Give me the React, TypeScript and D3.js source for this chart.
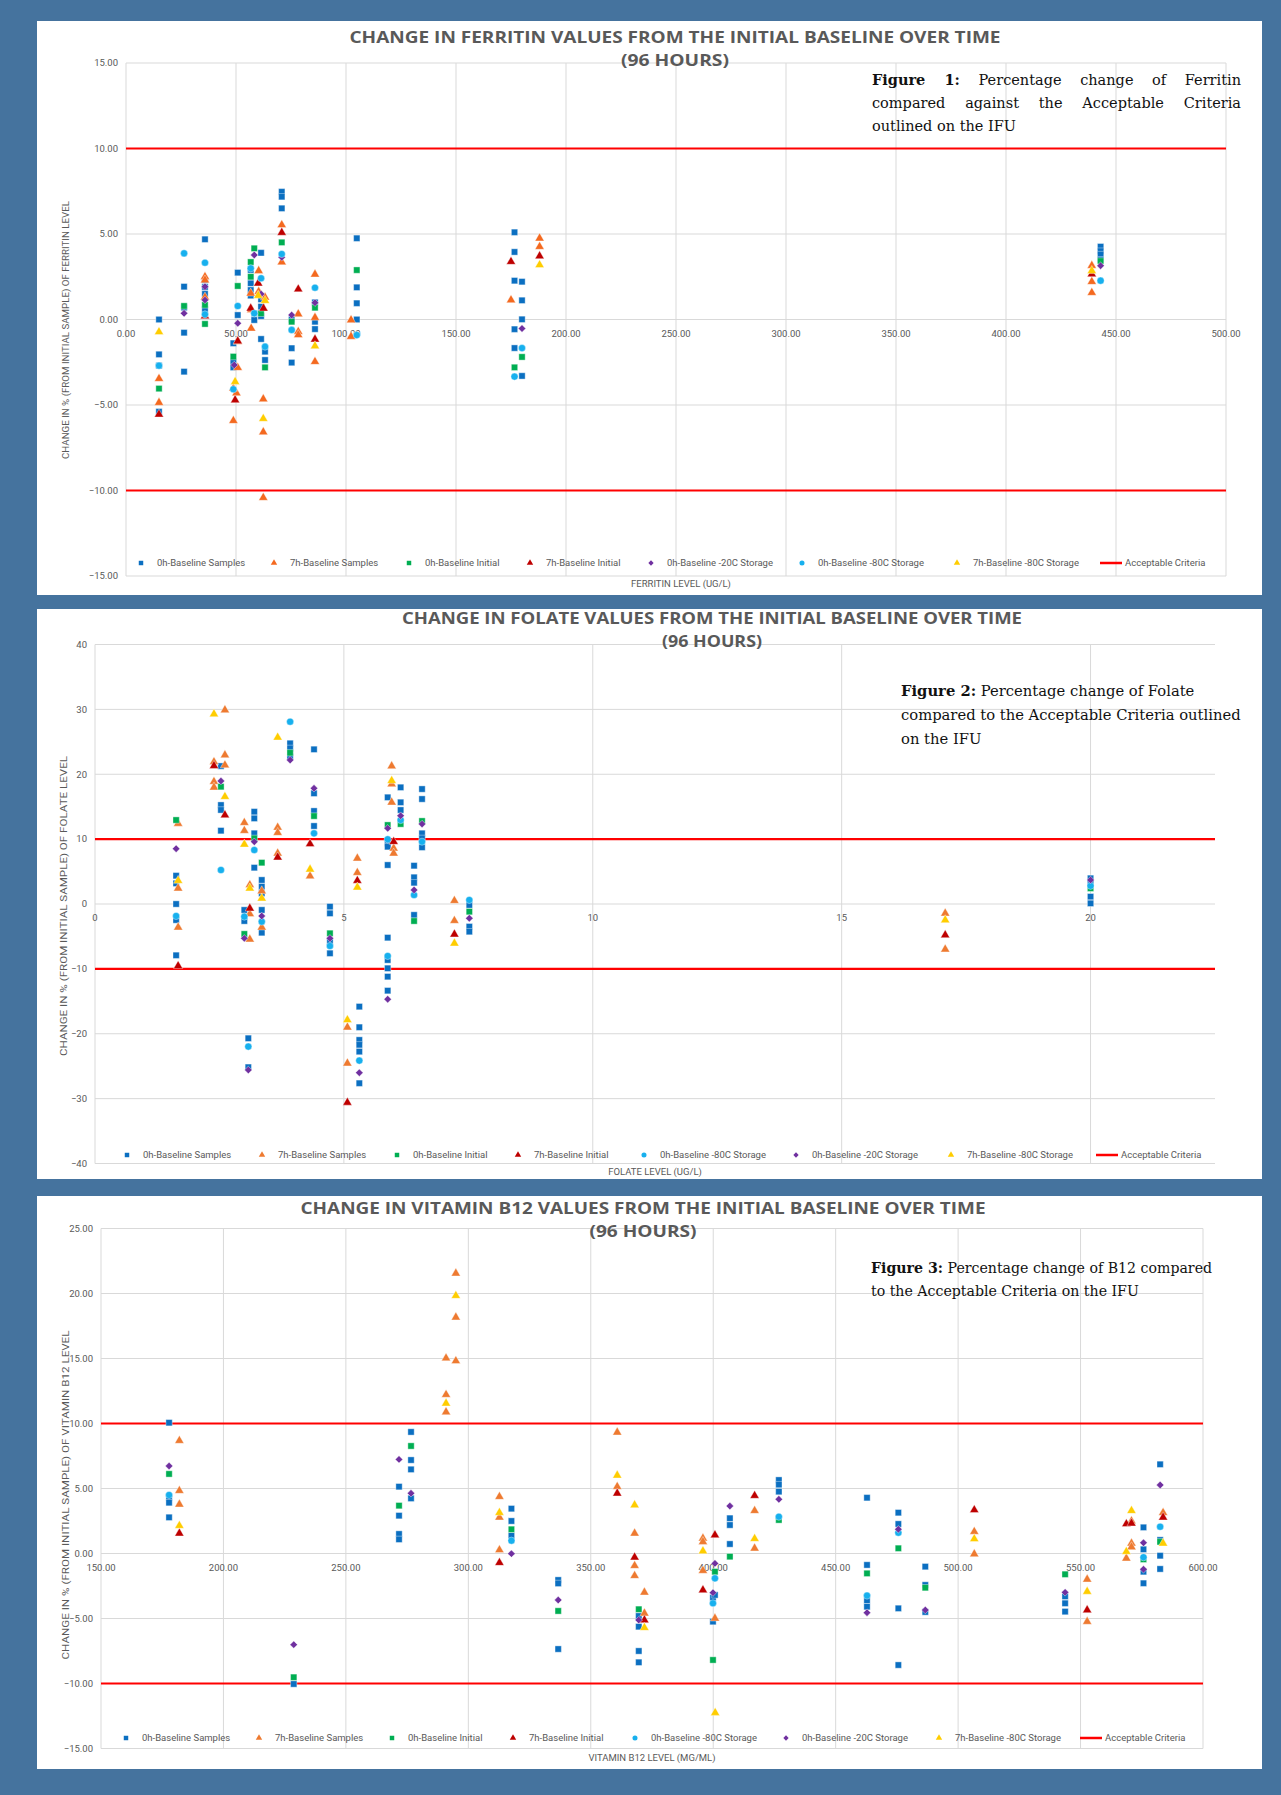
import React, { useEffect, useRef } from 'react';
import * as d3 from 'd3';

type Pt = [number, number];

// ---------- Figure 1: Ferritin (x = ferritin level, y = % change) ----------
const ferritin0hSamples: Pt[] = [
  [15, 0.0], [15, -2.04], [15, -2.7], [15, -5.39],
  [26.4, 1.92], [26.4, 0.7], [26.4, -0.77], [26.4, -3.05],
  [35.9, 4.69], [35.9, 2.3], [35.9, 1.9], [35.9, 1.5], [35.9, 0.6],
  [50.8, 2.74], [50.8, 0.26], [48.8, -1.39], [48.8, -2.47], [48.8, -2.8],
  [56.7, 2.9], [56.7, 2.12], [56.7, 1.72], [56.7, 1.4],
  [58.3, 0.36], [58.3, -0.03],
  [61.4, 3.9], [61.4, 1.18], [61.4, 0.75], [61.4, 0.2], [61.4, -1.14],
  [63.2, -1.88], [63.2, -2.37],
  [70.8, 7.47], [70.8, 7.18], [70.8, 6.5],
  [75.3, 0.0], [75.3, -1.68], [75.3, -2.52],
  [85.9, 1.0], [85.9, -0.13], [85.9, -0.56],
  [104.9, 4.75], [104.9, 1.88], [104.9, 0.95], [104.9, 0.0],
  [176.6, 5.1], [176.6, 3.95], [176.6, 2.27], [176.6, -0.57], [176.6, -1.67],
  [180, 2.21], [180, 1.12], [180, 0.01], [180, -3.3],
  [443, 4.26], [443, 4.0], [443, 3.8], [443, 3.5],
];
const ferritin7hSamples: Pt[] = [
  [15, -3.46], [15, -4.86],
  [35.9, 2.5], [35.9, 2.3], [35.9, 1.3],
  [50.8, -1.3], [50.8, -2.82], [50.2, -4.3], [48.8, -4.03], [48.8, -5.92],
  [56.7, 1.53], [56.9, 0.56], [56.9, -0.52],
  [60.3, 2.85], [60.3, 1.63], [63.2, 1.3],
  [62.4, -4.65], [62.4, -6.58], [62.4, -10.42],
  [70.8, 5.53], [70.8, 3.35],
  [78.3, 0.32], [78.3, -0.71], [78.3, -0.9],
  [85.9, 2.64], [85.9, 0.11], [85.9, -2.47],
  [102.3, -0.03], [102.3, -1.0],
  [175, 1.14], [188, 4.75], [188, 4.26],
  [439, 3.15], [439, 2.21], [439, 1.57],
];
const ferritin0hInitial: Pt[] = [
  [15, -4.04], [26.4, 0.79], [35.9, 0.85], [35.9, -0.26],
  [50.8, 1.96], [48.8, -2.17], [56.7, 3.36], [56.7, 2.5], [58.3, 4.16],
  [61.4, 0.36], [63.2, -2.8], [70.8, 4.51], [75.3, -0.13], [85.9, 0.69],
  [104.9, 2.89], [176.6, -2.8], [180, -2.19], [443, 3.42],
];
const ferritin7hInitial: Pt[] = [
  [15, -5.55], [35.9, 0.2], [50.8, -1.26], [49.6, -4.71], [56.7, 0.65],
  [60.1, 2.12], [62.5, 0.65], [70.8, 5.08], [78.3, 1.77], [85.9, -1.16],
  [175, 3.38], [188, 3.71], [439, 2.66],
];
const ferritin0hMinus20: Pt[] = [
  [26.4, 0.36], [35.9, 1.92], [35.9, 1.14], [50.8, -0.22], [49.2, -2.66],
  [58.3, 3.77], [61.4, 1.49], [70.8, 3.64], [75.3, 0.26], [85.9, 0.98],
  [180, -0.53], [443, 3.15],
];
const ferritin0hMinus80: Pt[] = [
  [15, -2.7], [26.4, 3.87], [35.9, 3.32], [35.9, 0.3], [50.8, 0.79], [48.8, -4.08],
  [56.7, 2.99], [58.3, 0.36], [61.4, 2.41], [63.2, -1.59], [70.8, 3.83],
  [75.3, -0.61], [85.9, 1.86], [104.9, -0.91], [176.6, -3.34], [180, -1.67], [443, 2.27],
];
const ferritin7hMinus80: Pt[] = [
  [15, -0.73], [49.6, -3.64], [60.1, 1.4], [63.2, 1.1], [62.4, -5.8],
  [85.9, -1.55], [188, 3.19], [439, 2.85],
];

// ---------- Figure 2: Folate ----------
const folate0hSamples: Pt[] = [
  [1.63, 4.36], [1.63, 3.18], [1.63, 0], [1.63, -2.47], [1.63, -7.91],
  [2.53, 21.26], [2.53, 15.25], [2.53, 14.5], [2.53, 11.3],
  [3.0, -0.92], [3.0, -2.62], [3.08, -20.7], [3.08, -25.16],
  [3.2, 14.22], [3.2, 13.2], [3.2, 10.89], [3.2, 5.6],
  [3.35, 3.7], [3.35, 2.67], [3.35, 1.64], [3.35, -0.92], [3.35, -4.42],
  [3.92, 24.76], [3.92, 23.99], [3.92, 22.7],
  [4.4, 23.84], [4.4, 17.06], [4.4, 14.33], [4.4, 12.02],
  [4.72, -0.41], [4.72, -1.44], [4.72, -5.8], [4.72, -7.6],
  [5.31, -15.82], [5.31, -19.0], [5.31, -20.96], [5.31, -21.7], [5.31, -22.75], [5.31, -27.63],
  [5.88, 16.44], [5.88, 9.35], [5.88, 8.83], [5.88, 6.01], [5.88, -5.19], [5.88, -8.63],
  [5.88, -9.91], [5.88, -11.2], [5.88, -13.36],
  [6.14, 17.98], [6.14, 15.67], [6.14, 14.48],
  [6.41, 5.9], [6.41, 4.11], [6.41, 3.28], [6.41, -1.69],
  [6.57, 17.72], [6.57, 16.18], [6.57, 10.89], [6.57, 10.12], [6.57, 8.74],
  [7.52, -0.15], [7.52, -3.49], [7.52, -4.26],
  [20, 3.96], [20, 3.2], [20, 1.13], [20, 0.1],
];
const folate7hSamples: Pt[] = [
  [1.67, 12.4], [1.67, 2.42], [1.67, -3.6],
  [2.39, 21.9], [2.39, 18.85], [2.39, 17.98],
  [2.61, 29.9], [2.61, 22.96], [2.61, 21.4],
  [3.0, 12.53], [3.0, 11.3], [3.11, 2.93], [3.11, -1.54], [3.11, -5.44],
  [3.35, 2.0], [3.35, -3.6], [3.67, 11.8], [3.67, 10.99], [3.67, 7.81],
  [4.32, 4.31], [5.07, -19.0], [5.07, -24.55], [5.27, 7.04], [5.27, 4.83],
  [5.96, 21.26], [5.96, 18.49], [5.96, 15.67], [6.0, 8.58], [6.0, 7.81],
  [7.22, 0.51], [7.22, -2.57], [17.08, -1.44], [17.08, -6.98],
];
const folate0hInitial: Pt[] = [
  [1.63, 12.94], [2.53, 18.08], [3.0, -4.62], [3.2, 10.12], [3.35, 6.37],
  [3.92, 23.31], [4.4, 13.56], [4.72, -4.52], [5.88, 12.17], [6.14, 12.33],
  [6.41, -2.62], [6.57, 12.79], [7.52, -1.18], [20, 2.42],
];
const folate7hInitial: Pt[] = [
  [1.67, -9.55], [2.39, 21.3], [2.61, 13.71], [3.11, -0.67], [3.67, 7.2],
  [4.32, 9.25], [5.07, -30.6], [5.27, 3.6], [6.0, 9.6], [7.22, -4.67], [17.08, -4.78],
];
const folate0hMinus80: Pt[] = [
  [1.63, -1.85], [2.53, 5.24], [3.0, -1.95], [3.08, -21.98], [3.2, 8.32],
  [3.35, -2.72], [3.92, 28.1], [4.4, 10.89], [4.72, -6.47], [5.31, -24.14],
  [5.88, 9.97], [5.88, -8.01], [6.14, 12.94], [6.41, 1.39], [6.57, 9.6],
  [7.52, 0.62], [20, 2.8],
];
const folate0hMinus20: Pt[] = [
  [1.63, 8.52], [2.53, 18.95], [3.0, -5.29], [3.08, -25.58], [3.2, 9.6],
  [3.35, -1.85], [3.92, 22.19], [4.4, 17.83], [4.72, -5.29], [5.31, -26.0],
  [5.88, 11.66], [5.88, -14.68], [6.14, 13.61], [6.41, 2.16], [6.57, 12.33],
  [7.52, -2.21], [20, 3.7],
];
const folate7hMinus80: Pt[] = [
  [1.67, 3.6], [2.39, 29.28], [2.61, 16.54], [3.0, 9.19], [3.11, 2.42],
  [3.35, 0.88], [3.67, 25.68], [4.32, 5.35], [5.07, -17.87], [5.27, 2.57],
  [5.96, 19.0], [7.22, -6.06], [17.08, -2.47],
];

// ---------- Figure 3: Vitamin B12 ----------
const b120hSamples: Pt[] = [
  [177.8, 10.06], [177.8, 4.3], [177.8, 3.91], [177.8, 2.78],
  [228.7, -10.04],
  [271.7, 5.14], [271.7, 2.91], [271.7, 1.5], [271.7, 1.09],
  [276.6, 9.35], [276.6, 7.19], [276.6, 6.47], [276.6, 4.24],
  [317.6, 3.45], [317.6, 2.5], [317.6, 1.37],
  [336.7, -2.04], [336.7, -2.3], [336.7, -7.35],
  [369.6, -4.81], [369.6, -5.63], [369.6, -7.5], [369.6, -8.37],
  [399.9, -3.4], [399.9, -5.24], [400.7, -3.19],
  [406.8, 2.71], [406.8, 2.19], [406.8, 0.73],
  [426.8, 5.65], [426.8, 5.3], [426.8, 4.76],
  [462.8, 4.29], [462.8, -0.88], [462.8, -3.6], [462.8, -4.09],
  [475.6, 3.14], [475.6, 2.27], [475.6, -4.22], [475.6, -8.58],
  [486.6, -1.01], [486.6, -2.42], [486.6, -4.5],
  [543.7, -3.3], [543.7, -3.83], [543.7, -4.47],
  [575.7, 2.01], [575.7, 0.32], [575.7, -1.4], [575.7, -2.29],
  [582.5, 6.86], [582.5, 1.04], [582.5, -0.17], [582.5, -1.19],
];
const b127hSamples: Pt[] = [
  [182, 8.68], [182, 4.83], [182, 3.78],
  [294.9, 21.55], [294.9, 18.17], [294.9, 14.81],
  [290.9, 15.02], [290.9, 12.22], [290.9, 10.88],
  [312.7, 4.37], [312.7, 2.78], [312.7, 0.27],
  [360.8, 9.32], [360.8, 5.14], [367.9, 1.55], [367.9, -0.94], [367.9, -1.71],
  [371.9, -2.99], [371.9, -4.6], [395.8, 1.17], [395.8, 0.9], [395.8, -1.32],
  [400.7, -4.99], [416.9, 3.29], [416.9, 0.4], [506.6, 1.68], [506.6, -0.04],
  [552.7, -1.99], [552.7, -5.24], [568.7, -0.37],
  [570.8, 2.5], [570.8, 0.78], [570.8, 0.5], [583.7, 3.14],
];
const b120hInitial: Pt[] = [
  [177.8, 6.12], [228.7, -9.52], [271.7, 3.68], [276.6, 8.27], [317.6, 1.86],
  [336.7, -4.42], [369.6, -4.29], [399.9, -8.19], [400.7, -1.4], [406.8, -0.24],
  [426.8, 2.58], [462.8, -1.53], [475.6, 0.4], [486.6, -2.63], [543.7, -1.6],
  [575.7, -0.45], [582.5, 0.9],
];
const b127hInitial: Pt[] = [
  [182, 1.55], [312.7, -0.71], [360.8, 4.63], [367.9, -0.29], [371.9, -5.12],
  [395.8, -2.81], [400.7, 1.42], [416.9, 4.45], [506.6, 3.35], [552.7, -4.35],
  [568.7, 2.27], [570.8, 2.32], [583.7, 2.78],
];
const b120hMinus80: Pt[] = [
  [177.8, 4.5], [317.6, 0.99], [399.9, -3.83], [400.7, -1.91], [426.8, 2.83],
  [462.8, -3.24], [475.6, 1.6], [575.7, -0.29], [582.5, 2.06],
];
const b120hMinus20: Pt[] = [
  [177.8, 6.73], [228.7, -7.01], [271.7, 7.24], [276.6, 4.63], [317.6, -0.01],
  [336.7, -3.58], [369.6, -5.12], [399.9, -3.01], [400.7, -0.76], [406.8, 3.65],
  [426.8, 4.17], [462.8, -4.55], [475.6, 1.86], [486.6, -4.35], [543.7, -2.99],
  [575.7, 0.83], [575.7, -1.22], [582.5, 5.27],
];
const b127hMinus80: Pt[] = [
  [182, 2.14], [290.9, 11.55], [294.9, 19.83], [312.7, 3.14], [360.8, 6.01],
  [367.9, 3.73], [371.9, -5.71], [395.8, 0.19], [400.8, -12.25], [416.9, 1.14],
  [506.6, 1.12], [552.7, -2.93], [568.7, 0.14], [570.8, 3.29], [583.7, 0.78],
];

// ticks and limits
const ferritinXTicks = [0, 50, 100, 150, 200, 250, 300, 350, 400, 450, 500];
const ferritinYTicks = [-15, -10, -5, 0, 5, 10, 15];
const folateXTicks = [0, 5, 10, 15, 20];
const folateYTicks = [-40, -30, -20, -10, 0, 10, 20, 30, 40];
const b12XTicks = [150, 200, 250, 300, 350, 400, 450, 500, 550, 600];
const b12YTicks = [-15, -10, -5, 0, 5, 10, 15, 20, 25];
const acceptableLimits = [10, -10];

const S0 = { name: '0h-Baseline Samples', color: '#0B6FC1', shape: 'square' };
const S7 = { name: '7h-Baseline Samples', color: '#EE7A30', shape: 'triangle' };
const I0 = { name: '0h-Baseline Initial', color: '#00AE52', shape: 'square' };
const I7 = { name: '7h-Baseline Initial', color: '#BE0000', shape: 'triangle' };
const M20 = { name: '0h-Baseline -20C Storage', color: '#7030A0', shape: 'diamond' };
const M80 = { name: '0h-Baseline -80C Storage', color: '#17B0EE', shape: 'circle' };
const Y80 = { name: '7h-Baseline -80C Storage', color: '#FFCD00', shape: 'triangle' };
const S7F = { ...S7, color: '#F4691F' };

const TXT = '#595959';

const panels = [
  {
    box: [37, 21, 1225, 574],
    xDomain: [0, 500], xRange: [126, 1226], yDomain: [-15, 15], yRange: [576, 63],
    xTicks: ferritinXTicks, yTicks: ferritinYTicks, fmt: d3.format('.2f'),
    series: [
      [ferritin0hSamples, S0], [ferritin7hSamples, S7F], [ferritin0hInitial, I0], [ferritin7hInitial, I7],
      [ferritin0hMinus20, M20], [ferritin0hMinus80, M80], [ferritin7hMinus80, Y80],
    ],
    legendY: 563, legendX: [141, 274, 409, 530, 651, 802, 957, 1100],
    title: ['CHANGE IN FERRITIN VALUES FROM THE INITIAL BASELINE OVER TIME', 675, 37, 651, 60, 108],
    xTitle: ['FERRITIN LEVEL (UG/L)', 681, 584],
    yTitle: ['CHANGE IN % (FROM INITIAL SAMPLE) OF FERRITIN LEVEL', 66, 330, 258],
    caption: {
      x: 872, ys: [80, 103, 126], justify: true, fit: 0, size: 14.5,
      lines: [['Figure 1:', ' Percentage change of Ferritin', 369], ['', 'compared against the Acceptable Criteria', 369], ['', 'outlined on the IFU', 131]],
    },
  },
  {
    box: [37, 609, 1225, 570],
    xDomain: [0, 22.5], xRange: [95, 1215], yDomain: [-40, 40], yRange: [1163.5, 644.5],
    xTicks: folateXTicks, yTicks: folateYTicks, fmt: d3.format('d'),
    series: [
      [folate0hSamples, S0], [folate7hSamples, S7], [folate0hInitial, I0], [folate7hInitial, I7],
      [folate0hMinus80, M80], [folate0hMinus20, M20], [folate7hMinus80, Y80],
    ],
    legendY: 1155, legendX: [127, 262, 397, 518, 644, 796, 951, 1096],
    title: ['CHANGE IN FOLATE VALUES FROM THE INITIAL BASELINE OVER TIME', 712, 618, 620, 641, 100],
    xTitle: ['FOLATE LEVEL (UG/L)', 655, 1172],
    yTitle: ['CHANGE IN % (FROM INITIAL SAMPLE) OF FOLATE  LEVEL', 64, 906, 300],
    caption: {
      x: 901, ys: [691, 715, 739], justify: false, fit: 1, size: 14,
      lines: [['Figure 2:', ' Percentage change of Folate', 324], ['', 'compared to the Acceptable Criteria outlined', 340], ['', 'on the IFU', 72]],
    },
  },
  {
    box: [37, 1196, 1225, 573],
    xDomain: [150, 600], xRange: [101, 1203], yDomain: [-15, 25], yRange: [1748.5, 1228.5],
    xTicks: b12XTicks, yTicks: b12YTicks, fmt: d3.format('.2f'),
    series: [
      [b120hSamples, S0], [b127hSamples, S7], [b120hInitial, I0], [b127hInitial, I7],
      [b120hMinus80, M80], [b120hMinus20, M20], [b127hMinus80, Y80],
    ],
    legendY: 1738, legendX: [126, 259, 392, 513, 635, 786, 939, 1080],
    title: ['CHANGE IN VITAMIN B12 VALUES FROM THE INITIAL BASELINE OVER TIME', 643, 1208, 685, 1231, 107],
    xTitle: ['VITAMIN B12 LEVEL (MG/ML)', 652, 1758],
    yTitle: ['CHANGE IN % (FROM INITIAL SAMPLE) OF VITAMIN B12  LEVEL', 66, 1495, 329],
    caption: {
      x: 871, ys: [1268, 1291], justify: false, fit: 1, size: 14,
      lines: [['Figure 3:', ' Percentage change of B12 compared', 345], ['', 'to the Acceptable Criteria on the IFU', 268]],
    },
  },
];

const markerPath = (shape: string, size: number) => {
  if (shape === 'triangle') return d3.symbol(d3.symbolTriangle, size * 0.9)();
  if (shape === 'circle') return d3.symbol(d3.symbolCircle, size)();
  if (shape === 'diamond') return d3.symbol(d3.symbolSquare, size * 0.7)();
  return d3.symbol(d3.symbolSquare, size)();
};

const App = () => {
  const ref = useRef<SVGSVGElement>(null);

  useEffect(() => {
    const svg = d3.select(ref.current);
    svg.selectAll('*').remove();
    svg.append('rect').attr('width', 1281).attr('height', 1795).attr('fill', '#45739E');

    panels.forEach((p: any) => {
      const g = svg.append('g');
      const [bx, by, bw, bh] = p.box;
      g.append('rect').attr('x', bx).attr('y', by).attr('width', bw).attr('height', bh).attr('fill', '#fff');

      const x = d3.scaleLinear().domain(p.xDomain).range(p.xRange);
      const y = d3.scaleLinear().domain(p.yDomain).range(p.yRange);
      const [x0, x1] = p.xRange;
      const [yb, yt] = p.yRange;

      // gridlines
      g.selectAll('.gx').data(p.xTicks).enter().append('line')
        .attr('x1', (d: number) => x(d)).attr('x2', (d: number) => x(d))
        .attr('y1', yt).attr('y2', yb).attr('stroke', '#D9D9D9').attr('stroke-width', 1);
      g.selectAll('.gy').data(p.yTicks).enter().append('line')
        .attr('x1', x0).attr('x2', x1)
        .attr('y1', (d: number) => y(d)).attr('y2', (d: number) => y(d))
        .attr('stroke', '#D9D9D9').attr('stroke-width', 1);

      // tick labels
      g.selectAll('.ty').data(p.yTicks).enter().append('text')
        .attr('x', x0 - 8).attr('y', (d: number) => y(d)).attr('dy', '0.35em')
        .attr('text-anchor', 'end').attr('font-family', 'Roboto, sans-serif').attr('font-size', 9.5)
        .attr('fill', TXT).text((d: number) => p.fmt(d));
      g.selectAll('.tx').data(p.xTicks).enter().append('text')
        .attr('x', (d: number) => x(d)).attr('y', y(0) + 14).attr('dy', '0.35em')
        .attr('text-anchor', 'middle').attr('font-family', 'Roboto, sans-serif').attr('font-size', 9.5)
        .attr('fill', TXT).text((d: number) => p.fmt(d));

      // acceptable criteria
      g.selectAll('.crit').data(acceptableLimits).enter().append('line')
        .attr('x1', x(p.xDomain[0])).attr('x2', x(p.xDomain[1]))
        .attr('y1', (d: number) => y(d)).attr('y2', (d: number) => y(d))
        .attr('stroke', '#FF0000').attr('stroke-width', 2.2);

      // series
      p.series.forEach(([data, st]: any) => {
        g.append('g').selectAll('path').data(data).enter().append('path')
          .attr('d', markerPath(st.shape, 40))
          .attr('transform', (d: Pt) => `translate(${x(d[0])},${y(d[1])})${st.shape === 'diamond' ? ' rotate(45)' : ''}`)
          .attr('fill', st.color).attr('stroke', '#ffffff').attr('stroke-opacity', 0.55).attr('stroke-width', 0.7);
      });

      // legend
      const lg = g.append('g');
      p.series.forEach(([, st]: any, i: number) => {
        const lx = p.legendX[i];
        lg.append('path').attr('d', markerPath(st.shape, 20))
          .attr('transform', `translate(${lx},${p.legendY})${st.shape === 'diamond' ? ' rotate(45)' : ''}`)
          .attr('fill', st.color);
        lg.append('text').attr('x', lx + 16).attr('y', p.legendY).attr('dy', '0.35em')
          .attr('font-family', 'Roboto, sans-serif').attr('font-size', 9.5).attr('fill', TXT).text(st.name);
      });
      const cx = p.legendX[7];
      lg.append('line').attr('x1', cx).attr('x2', cx + 22).attr('y1', p.legendY).attr('y2', p.legendY)
        .attr('stroke', '#FF0000').attr('stroke-width', 2.5);
      lg.append('text').attr('x', cx + 25).attr('y', p.legendY).attr('dy', '0.35em')
        .attr('font-family', 'Roboto, sans-serif').attr('font-size', 9.5).attr('fill', TXT).text('Acceptable Criteria');

      // chart title
      const [t1, tcx, ty1, tw1, ty2, tw2] = p.title;
      g.append('text').attr('x', tcx).attr('y', ty1).attr('dy', '0.35em').attr('text-anchor', 'middle')
        .attr('font-family', "'Open Sans', sans-serif").attr('font-weight', 700).attr('font-size', 16)
        .attr('fill', TXT).attr('textLength', tw1).attr('lengthAdjust', 'spacingAndGlyphs').text(t1);
      g.append('text').attr('x', tcx).attr('y', ty2).attr('dy', '0.35em').attr('text-anchor', 'middle')
        .attr('font-family', "'Open Sans', sans-serif").attr('font-weight', 700).attr('font-size', 16)
        .attr('fill', TXT).attr('textLength', tw2).attr('lengthAdjust', 'spacingAndGlyphs').text('(96 HOURS)');

      // axis titles
      const [xt, xtx, xty] = p.xTitle;
      g.append('text').attr('x', xtx).attr('y', xty).attr('dy', '0.35em').attr('text-anchor', 'middle')
        .attr('font-family', 'Roboto, sans-serif').attr('font-size', 9.5).attr('fill', TXT).text(xt);
      const [yTxt, ytx, yty, ytw] = p.yTitle;
      g.append('text').attr('transform', `translate(${ytx},${yty}) rotate(-90)`).attr('dy', '0.35em')
        .attr('text-anchor', 'middle').attr('font-family', 'Roboto, sans-serif').attr('font-size', 8.5)
        .attr('fill', TXT).attr('textLength', ytw).attr('lengthAdjust', 'spacingAndGlyphs').text(yTxt);

      // figure caption: size fitted to a reference line, first lines justified for figure 1
      const cap = p.caption;
      const texts = cap.lines.map(([bold, rest]: any, i: number) => {
        const t = g.append('text').attr('x', cap.x).attr('y', cap.ys[i]).attr('dy', '0.35em')
          .attr('font-family', "'DejaVu Serif', serif").attr('font-size', cap.size).attr('fill', '#111');
        if (bold) t.append('tspan').attr('font-weight', 700).text(bold);
        t.append('tspan').text(rest);
        return t;
      });
      if (!cap.justify) {
        const nat = (texts[cap.fit].node() as SVGTextElement).getComputedTextLength();
        const fs = cap.size * cap.lines[cap.fit][2] / nat;
        texts.forEach((t: any) => t.attr('font-size', fs));
      } else {
        texts.forEach((t: any, i: number) => {
          if (i === texts.length - 1) return;
          const [bold, rest, w] = cap.lines[i];
          const nat = (t.node() as SVGTextElement).getComputedTextLength();
          const gaps = (bold + rest).split(' ').length - 1;
          if (gaps > 0) t.attr('word-spacing', (w - nat) / gaps);
        });
      }
    });
  }, []);

  return (
    <div style={{ position: 'absolute', left: 0, top: 0 }}>
      <svg ref={ref} width={1281} height={1795} />
    </div>
  );
};

export default App;
